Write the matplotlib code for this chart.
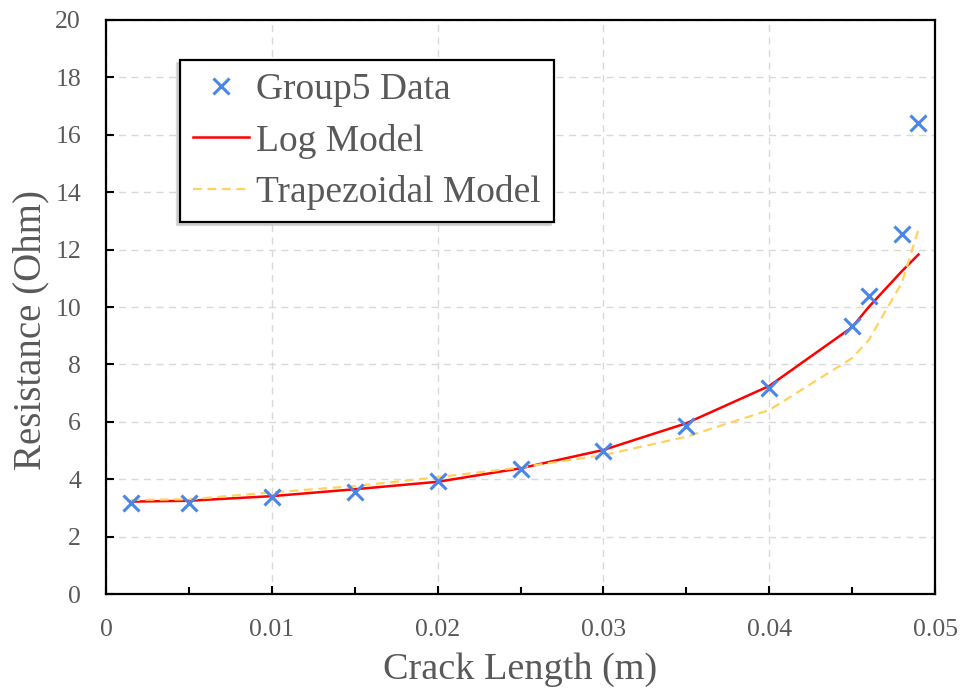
import numpy as np
import matplotlib
matplotlib.use("Agg")
import matplotlib.pyplot as plt

plt.rcParams['font.family'] = ['Liberation Serif', 'DejaVu Serif']

TEXT_GREY = "#595959"

# crack length (m)
crack_len = [0.0015, 0.005, 0.01, 0.015, 0.02, 0.025, 0.03, 0.035, 0.04, 0.045, 0.046, 0.048, 0.049]
# measured resistance (Ohm)
group5_data = [3.17, 3.18, 3.37, 3.57, 3.94, 4.36, 4.98, 5.85, 7.18, 9.35, 10.38, 12.53, 16.42]
log_model = [3.22, 3.25, 3.41, 3.65, 3.91, 4.38, 5.02, 5.95, 7.25, 9.30, 10.00, 11.25, 11.83]
trap_model = [3.28, 3.30, 3.54, 3.76, 4.07, 4.41, 4.84, 5.48, 6.41, 8.22, 8.85, 10.85, 12.70]

x_ticks = [0, 0.01, 0.02, 0.03, 0.04, 0.05]
x_tick_labels = ["0", "0.01", "0.02", "0.03", "0.04", "0.05"]
y_ticks = list(range(0, 21, 2))


def main():
    fig = plt.figure(figsize=(9.64, 6.92), dpi=100)
    ax = fig.add_axes([0.110, 0.1416, 0.860, 0.8295])

    ax.plot(crack_len, group5_data, linestyle="none", marker="x", color="#4A86E8",
            markersize=11, markeredgewidth=2.2, label="Group5 Data", zorder=4)
    ax.plot(crack_len, log_model, color="#FF0000", linewidth=1.8, label="Log Model", zorder=3)
    ax.plot(crack_len, trap_model, color="#FFD25E", linewidth=1.6, linestyle=(0, (4, 2.5)),
            label="Trapezoidal Model", zorder=3)

    ax.set_xlim(0, 0.05)
    ax.set_ylim(0, 20)
    ax.set_xticks(x_ticks)
    ax.set_xticklabels(x_tick_labels)
    ax.set_xticks(np.arange(0.005, 0.05, 0.01), minor=True)
    ax.set_yticks(y_ticks)

    ax.grid(True, which="major", color="#D9D9D9", linestyle=(0, (5, 4)), linewidth=1.0)
    ax.set_axisbelow(True)

    ax.tick_params(axis="both", which="major", direction="in", length=6, width=1.5,
                   labelsize=18.5, labelcolor=TEXT_GREY, pad=18)
    ax.tick_params(axis="x", which="minor", direction="in", length=5, width=1.5)
    for s in ax.spines.values():
        s.set_linewidth(1.6)
        s.set_color("black")

    ax.set_xlabel("Crack Length (m)", fontsize=27.5, color=TEXT_GREY, labelpad=8)
    ax.set_ylabel("Resistance (Ohm)", fontsize=28, color=TEXT_GREY)
    ax.yaxis.set_label_coords(-0.068, 0.46)

    leg = ax.legend(loc="upper left", bbox_to_anchor=(0.089, 0.930), borderaxespad=0,
                    fontsize=27, frameon=True, fancybox=False, handlelength=1.5,
                    handletextpad=0.2, labelspacing=0.43, borderpad=0.34,
                    shadow={"ox": -2, "oy": -2, "color": "0.75", "alpha": 0.6})
    leg.get_frame().set_edgecolor("black")
    leg.get_frame().set_linewidth(1.6)
    for t in leg.get_texts():
        t.set_color(TEXT_GREY)

    fig.savefig("out.png", dpi=100)


if __name__ == "__main__":
    main()
